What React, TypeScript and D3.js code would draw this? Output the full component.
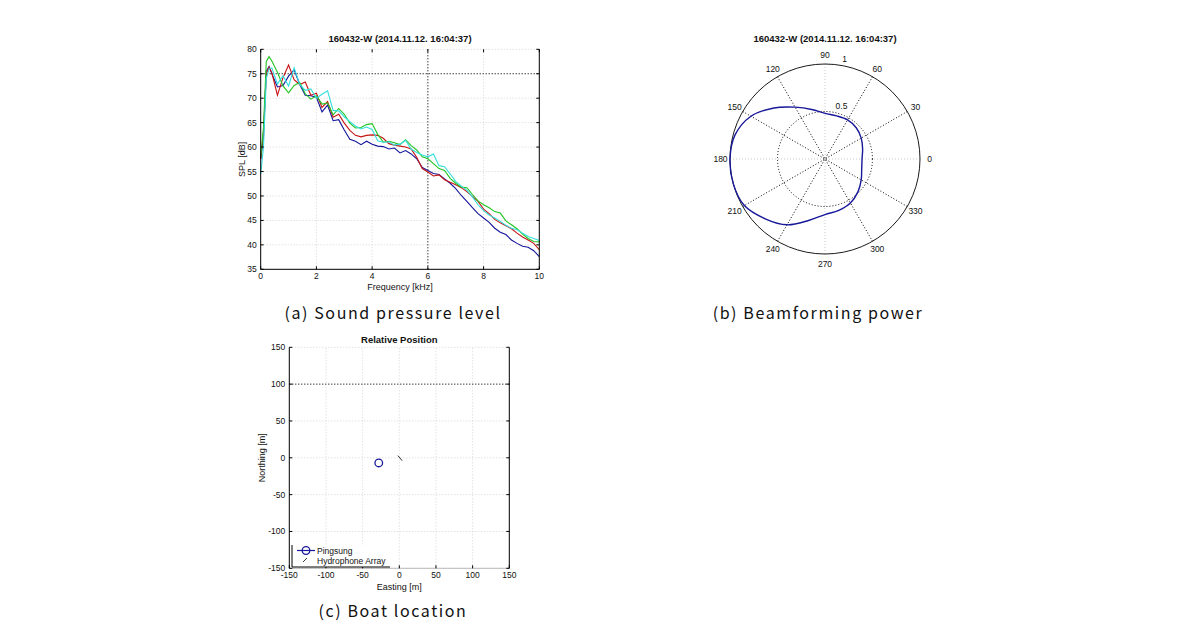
import React from 'react';
import * as d3 from 'd3';

// ---------- (a) Sound pressure level ----------
const freqKHz = [0, 0.1, 0.2, 0.3, 0.4, 0.6, 0.8, 1.0, 1.2, 1.4, 1.6, 1.8, 2.0, 2.2, 2.4, 2.6, 2.8, 3.0, 3.2, 3.4, 3.6, 3.8, 4.0, 4.2, 4.4, 4.6, 4.8, 5.0, 5.2, 5.4, 5.6, 5.8, 6.0, 6.2, 6.4, 6.6, 6.8, 7.0, 7.2, 7.4, 7.6, 7.8, 8.0, 8.2, 8.4, 8.6, 8.8, 9.0, 9.2, 9.4, 9.6, 9.8, 10.0];
const splBlue = [57.5, 62, 75.5, 76.5, 75.0, 72.3, 72.6, 74.5, 75.8, 72.8, 70.6, 70.5, 70.2, 67.2, 68.6, 65.4, 65.6, 63.5, 61.6, 61.2, 60.5, 61.2, 60.6, 60.2, 60.1, 59.6, 59.8, 58.8, 59.3, 58.6, 57.6, 55.8, 55.2, 54.6, 54.4, 53.5, 52.6, 51.5, 50.1, 48.9, 47.6, 46.4, 45.5, 44.6, 43.4, 42.6, 42.1, 41.0, 40.3, 39.7, 39.5, 38.8, 37.6];
const splRed = [57.5, 63, 75, 76.3, 75.2, 70.6, 74.2, 76.8, 73.8, 72.8, 73.3, 70.6, 71.0, 68.1, 69.3, 66.1, 66.7, 64.9, 63.4, 62.4, 62.1, 62.4, 62.5, 62.4, 61.8, 60.7, 60.4, 60.2, 60.0, 59.6, 57.9, 55.6, 54.9, 54.1, 54.3, 53.3, 52.8, 52.3, 51.7, 50.9, 49.9, 48.9, 47.3, 46.4, 45.2, 44.5, 43.9, 43.3, 42.4, 41.6, 41.0, 40.3, 39.0];
const splGreen = [58, 64, 77.5, 78.5, 77.6, 75.3, 72.5, 71.1, 72.6, 73.2, 70.9, 69.8, 70.5, 68.8, 69.0, 66.6, 67.9, 66.7, 64.9, 63.9, 64.0, 64.6, 64.8, 62.6, 61.0, 61.2, 60.9, 60.5, 61.5, 60.3, 59.4, 58.0, 57.6, 56.6, 55.6, 55.2, 53.6, 52.6, 51.8, 51.7, 50.3, 49.0, 48.2, 47.6, 46.8, 46.5, 44.9, 44.1, 43.3, 42.2, 41.3, 40.7, 40.6];
const splCyan = [54.5, 60, 74, 76, 76.2, 72.9, 74.6, 72.5, 76.2, 72.8, 71.6, 71.9, 70.0, 70.8, 71.5, 67.5, 67.4, 66.2, 65.2, 64.3, 63.7, 64.1, 63.6, 61.3, 61.0, 61.1, 60.4, 60.6, 61.4, 59.6, 58.9, 58.4, 58.0, 58.6, 56.2, 56.0, 54.5, 53.0, 52.0, 51.2, 49.8, 48.2, 47.0, 46.1, 45.5, 44.8, 44.0, 43.4, 43.1, 42.4, 41.7, 41.3, 40.9];
const splSeries = [splBlue, splRed, splGreen, splCyan];
const splColors = ['#14149a', '#c81414', '#22c422', '#33dede'];
const splTicksX = [0, 2, 4, 6, 8, 10];
const splTicksY = [35, 40, 45, 50, 55, 60, 65, 70, 75, 80];
const splRefFreq = 6;
const splRefLevel = 75;
const plotTitle = '160432-W (2014.11.12. 16:04:37)';

// ---------- (b) Beamforming power ----------
const beamAnglesDeg = [0, 15, 30, 45, 60, 75, 90, 105, 120, 135, 150, 165, 180, 195, 210, 225, 240, 255, 270, 285, 300, 315, 330, 345];
const beamPower = [0.39, 0.41, 0.44, 0.465, 0.475, 0.47, 0.48, 0.54, 0.63, 0.76, 0.9, 0.98, 1.0, 1.0, 0.98, 0.89, 0.8, 0.67, 0.585, 0.56, 0.535, 0.49, 0.44, 0.4];
const polarAngleLabels = [0, 30, 60, 90, 120, 150, 180, 210, 240, 270, 300, 330];
const polarRings = [0.5, 1];
const polarRingLabels = ['0.5', '1'];

// ---------- (c) Boat location ----------
const posTicks = [-150, -100, -50, 0, 50, 100, 150];
const boatEasting = [-28];
const boatNorthing = [-7];
const arrayEasting = [-2, 4];
const arrayNorthing = [3, -4];
const posRefNorthing = 100;
const legendLabels = ['Pingsung', 'Hydrophone Array'];

const AX_FONT = '"Liberation Sans", Arial, Helvetica, sans-serif';
const CAP_FONT = '"Noto Sans CJK KR", "Noto Sans", sans-serif';
const GRID = '#d4d4d4';
const TICK_FS = 8.5;
const LABEL_FS = 9;
const TITLE_FS = 9.5;

function SPLChart() {
  const x = d3.scaleLinear().domain([0, 10]).range([260.7, 539.3]);
  const y = d3.scaleLinear().domain([35, 80]).range([269.3, 49.3]);
  const line = d3.line<number>().x((_, i) => x(freqKHz[i])).y((d) => y(d));
  const [x0, x1] = x.range();
  const [y0, y1] = y.range();
  return (
    <g fontFamily={AX_FONT} fill="#111">
      {splTicksX.map((t) => (
        <line key={'gx' + t} x1={x(t)} x2={x(t)} y1={y0} y2={y1} stroke={GRID} strokeDasharray="1,2" />
      ))}
      {splTicksY.map((t) => (
        <line key={'gy' + t} x1={x0} x2={x1} y1={y(t)} y2={y(t)} stroke={GRID} strokeDasharray="1,2" />
      ))}
      <line x1={x(splRefFreq)} x2={x(splRefFreq)} y1={y0} y2={y1} stroke="#000" strokeDasharray="1,2" />
      <line x1={x0} x2={x1} y1={y(splRefLevel)} y2={y(splRefLevel)} stroke="#000" strokeDasharray="1,2" />
      {splSeries.map((s, i) => (
        <path key={i} d={line(s) || ''} fill="none" stroke={splColors[i]} strokeWidth={1.1} />
      ))}
      <line x1={x0} x2={x0} y1={y0} y2={y1} stroke="#000" />
      <line x1={x1} x2={x1} y1={y0} y2={y1} stroke="#000" />
      <line x1={x0} x2={x1} y1={y0} y2={y0} stroke="#000" />
      {splTicksX.map((t) => (
        <g key={'tx' + t}>
          <line x1={x(t)} x2={x(t)} y1={y0} y2={y0 - 3} stroke="#000" />
          <line x1={x(t)} x2={x(t)} y1={y1} y2={y1 + 3} stroke="#000" />
          <text x={x(t)} y={y0 + 9.5} fontSize={TICK_FS} textAnchor="middle">{t}</text>
        </g>
      ))}
      {splTicksY.map((t) => (
        <g key={'ty' + t}>
          <line x1={x0} x2={x0 + 3} y1={y(t)} y2={y(t)} stroke="#000" />
          <line x1={x1} x2={x1 - 3} y1={y(t)} y2={y(t)} stroke="#000" />
          <text x={x0 - 4} y={y(t) + 3} fontSize={TICK_FS} textAnchor="end">{t}</text>
        </g>
      ))}
      <text x={(x0 + x1) / 2} y={41.5} fontSize={TITLE_FS} fontWeight="bold" textAnchor="middle">{plotTitle}</text>
      <text x={(x0 + x1) / 2} y={289.5} fontSize={LABEL_FS} textAnchor="middle">Frequency [kHz]</text>
      <text transform={`translate(245,${(y0 + y1) / 2}) rotate(-90)`} fontSize={LABEL_FS} textAnchor="middle">SPL [dB]</text>
    </g>
  );
}

function PolarChart() {
  const cx = 825;
  const cy = 159;
  const r = d3.scaleLinear().domain([0, 1]).range([0, 95]);
  const R = r(1);
  const toRad = (deg: number) => (deg * Math.PI) / 180;
  const radial = d3
    .lineRadial<number>()
    .angle((_, i) => Math.PI / 2 - toRad(beamAnglesDeg[i]))
    .radius((d) => r(d))
    .curve(d3.curveCatmullRomClosed);
  const spokes = [0, 30, 60, 90, 120, 150];
  const c82 = Math.cos(toRad(82));
  const s82 = Math.sin(toRad(82));
  return (
    <g fontFamily={AX_FONT} fill="#111" transform={`translate(${cx},${cy})`}>
      {spokes.map((a) => {
        const dx = R * Math.cos(toRad(a));
        const dy = -R * Math.sin(toRad(a));
        const axisAligned = a % 90 === 0;
        return (
          <line key={a} x1={-dx} y1={-dy} x2={dx} y2={dy} stroke={axisAligned ? '#c8c8c8' : '#000'} strokeDasharray="1,2" />
        );
      })}
      {polarRings.map((v, i) =>
        i < polarRings.length - 1 ? (
          <circle key={v} r={r(v)} fill="none" stroke="#000" strokeDasharray="1,2" />
        ) : (
          <circle key={v} r={r(v)} fill="none" stroke="#000" strokeWidth={0.9} />
        )
      )}
      {polarRings.map((v, i) => (
        <text key={'rl' + v} x={r(v) * c82 + 4} y={-r(v) * s82 - 3} fontSize={TICK_FS}>{polarRingLabels[i]}</text>
      ))}
      {polarAngleLabels.map((a) => (
        <text key={'al' + a} x={1.1 * R * Math.cos(toRad(a))} y={-1.1 * R * Math.sin(toRad(a)) + 3} fontSize={TICK_FS} textAnchor="middle">{a}</text>
      ))}
      <path d={radial(beamPower) || ''} fill="none" stroke="#18189a" strokeWidth={1.4} />
      <text x={0} y={41.5 - cy} fontSize={TITLE_FS} fontWeight="bold" textAnchor="middle">{plotTitle}</text>
    </g>
  );
}

function PositionChart() {
  const x = d3.scaleLinear().domain([-150, 150]).range([289.3, 509.3]);
  const y = d3.scaleLinear().domain([-150, 150]).range([568.3, 347.3]);
  const [x0, x1] = x.range();
  const [y0, y1] = y.range();
  const arrLine = d3.line<number>().x((d) => x(d)).y((_, i) => y(arrayNorthing[i]));
  const lgX = 292;
  const lgY = 545;
  const lgW = 98;
  const lgH = 22;
  return (
    <g fontFamily={AX_FONT} fill="#111">
      {posTicks.map((t) => (
        <g key={'g' + t}>
          <line x1={x(t)} x2={x(t)} y1={y0} y2={y1} stroke={GRID} strokeDasharray="1,2" />
          <line x1={x0} x2={x1} y1={y(t)} y2={y(t)} stroke={GRID} strokeDasharray="1,2" />
        </g>
      ))}
      <line x1={x0} x2={x1} y1={y(posRefNorthing)} y2={y(posRefNorthing)} stroke="#000" strokeDasharray="1,2" />
      <line x1={x0} x2={x0} y1={y0} y2={y1} stroke="#000" />
      <line x1={x1} x2={x1} y1={y0} y2={y1} stroke="#000" />
      <line x1={x0} x2={x1} y1={y0} y2={y0} stroke="#bbb" />
      {posTicks.map((t) => (
        <g key={'t' + t}>
          <line x1={x(t)} x2={x(t)} y1={y0} y2={y0 - 3} stroke="#000" />
          <line x1={x0} x2={x0 + 3} y1={y(t)} y2={y(t)} stroke="#000" />
          <line x1={x1} x2={x1 - 3} y1={y(t)} y2={y(t)} stroke="#000" />
          <text x={x(t)} y={y0 + 9.5} fontSize={TICK_FS} textAnchor="middle">{t}</text>
          <text x={x0 - 4} y={y(t) + 3} fontSize={TICK_FS} textAnchor="end">{t}</text>
        </g>
      ))}
      <path d={arrLine(arrayEasting) || ''} stroke="#000" strokeWidth={0.8} fill="none" />
      {boatEasting.map((e, i) => (
        <circle key={i} cx={x(e)} cy={y(boatNorthing[i])} r={3.8} fill="none" stroke="#18189a" strokeWidth={1.3} />
      ))}
      <rect x={lgX} y={lgY} width={lgW} height={lgH} fill="#fff" stroke="none" />
      <line x1={lgX} x2={lgX} y1={lgY} y2={lgY + lgH} stroke="#000" />
      <line x1={lgX} x2={lgX + lgW} y1={lgY + lgH} y2={lgY + lgH} stroke="#000" />
      <line x1={lgX + 5} x2={lgX + 23} y1={lgY + 5.5} y2={lgY + 5.5} stroke="#18189a" strokeWidth={1.2} />
      <circle cx={lgX + 14} cy={lgY + 5.5} r={3.8} fill="none" stroke="#18189a" strokeWidth={1.3} />
      <line x1={lgX + 11} x2={lgX + 15} y1={lgY + 17} y2={lgY + 13} stroke="#000" strokeWidth={0.8} />
      <text x={lgX + 25} y={lgY + 8.5} fontSize={TICK_FS}>{legendLabels[0]}</text>
      <text x={lgX + 25} y={lgY + 18.5} fontSize={TICK_FS}>{legendLabels[1]}</text>
      <text x={(x0 + x1) / 2} y={342.5} fontSize={TITLE_FS} fontWeight="bold" textAnchor="middle">Relative Position</text>
      <text x={(x0 + x1) / 2} y={589.5} fontSize={LABEL_FS} textAnchor="middle">Easting [m]</text>
      <text transform={`translate(265,${(y0 + y1) / 2}) rotate(-90)`} fontSize={LABEL_FS} textAnchor="middle">Northing [m]</text>
    </g>
  );
}

export default function App() {
  return (
    <svg width={1190} height={643} style={{ position: 'absolute', left: 0, top: 0, background: '#fff' }}>
      <rect width={1190} height={643} fill="#fff" />
      <SPLChart />
      <PolarChart />
      <PositionChart />
      <g fontFamily={CAP_FONT} fontSize={16} fill="#111" letterSpacing={1.6}>
        <text x={393} y={319} textAnchor="middle">(a) Sound pressure level</text>
        <text x={818} y={319} textAnchor="middle">(b) Beamforming power</text>
        <text x={393} y={617} textAnchor="middle">(c) Boat location</text>
      </g>
    </svg>
  );
}
